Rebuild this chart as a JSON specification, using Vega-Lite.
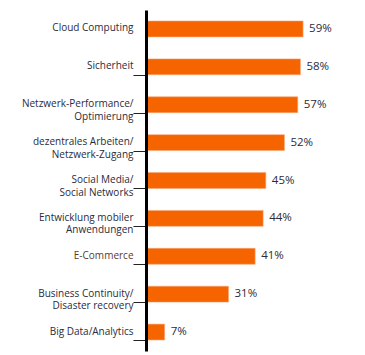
{
  "$schema": "https://vega.github.io/schema/vega-lite/v6.json",
  "autosize": {"type": "none"},
  "padding": {"left": 146, "top": 10, "right": 6, "bottom": 4},
  "width": 213,
  "height": 341,
  "background": "white",
  "data": {
    "values": [
      {"category": "Cloud Computing", "value": 59},
      {"category": "Sicherheit", "value": 58},
      {"category": "Netzwerk-Performance/|Optimierung", "value": 57},
      {"category": "dezentrales Arbeiten/|Netzwerk-Zugang", "value": 52},
      {"category": "Social Media/|Social Networks", "value": 45},
      {"category": "Entwicklung mobiler|Anwendungen", "value": 44},
      {"category": "E-Commerce", "value": 41},
      {"category": "Business Continuity/|Disaster recovery", "value": 31},
      {"category": "Big Data/Analytics", "value": 7}
    ]
  },
  "encoding": {
    "y": {
      "field": "category",
      "type": "nominal",
      "sort": null,
      "scale": {"paddingInner": 0.58, "paddingOuter": 0.29},
      "axis": {
        "title": null,
        "zindex": 1,
        "domainColor": "#000000",
        "domainWidth": 3,
        "tickBand": "extent",
        "tickColor": "#222222",
        "tickWidth": 1,
        "tickSize": 13,
        "tickOpacity": {"condition": {"test": "datum.index <= 0", "value": 0}, "value": 1},
        "labelPadding": 0,
        "labelExpr": "split(datum.label, '|')",
        "labelFont": "Open Sans",
        "labelFontSize": 10,
        "labelLineHeight": 12.5,
        "labelOffset": -1,
        "labelColor": {"condition": {"test": "datum.value == 'E-Commerce'", "value": "#5c3a2e"}, "value": "#2b2b3b"}
      }
    },
    "x": {
      "field": "value",
      "type": "quantitative",
      "scale": {"domain": [0, 80]},
      "axis": null
    }
  },
  "layer": [
    {
      "mark": {"type": "bar", "color": "#f66400", "stroke": "#f9a878", "strokeWidth": 0.6}
    },
    {
      "mark": {"type": "text", "align": "left", "baseline": "middle", "dx": 6, "font": "Open Sans", "fontSize": 11.5, "color": "#2b2b3b", "text": {"expr": "datum.value + '%'"}}
    }
  ],
  "config": {"view": {"stroke": null}}
}
